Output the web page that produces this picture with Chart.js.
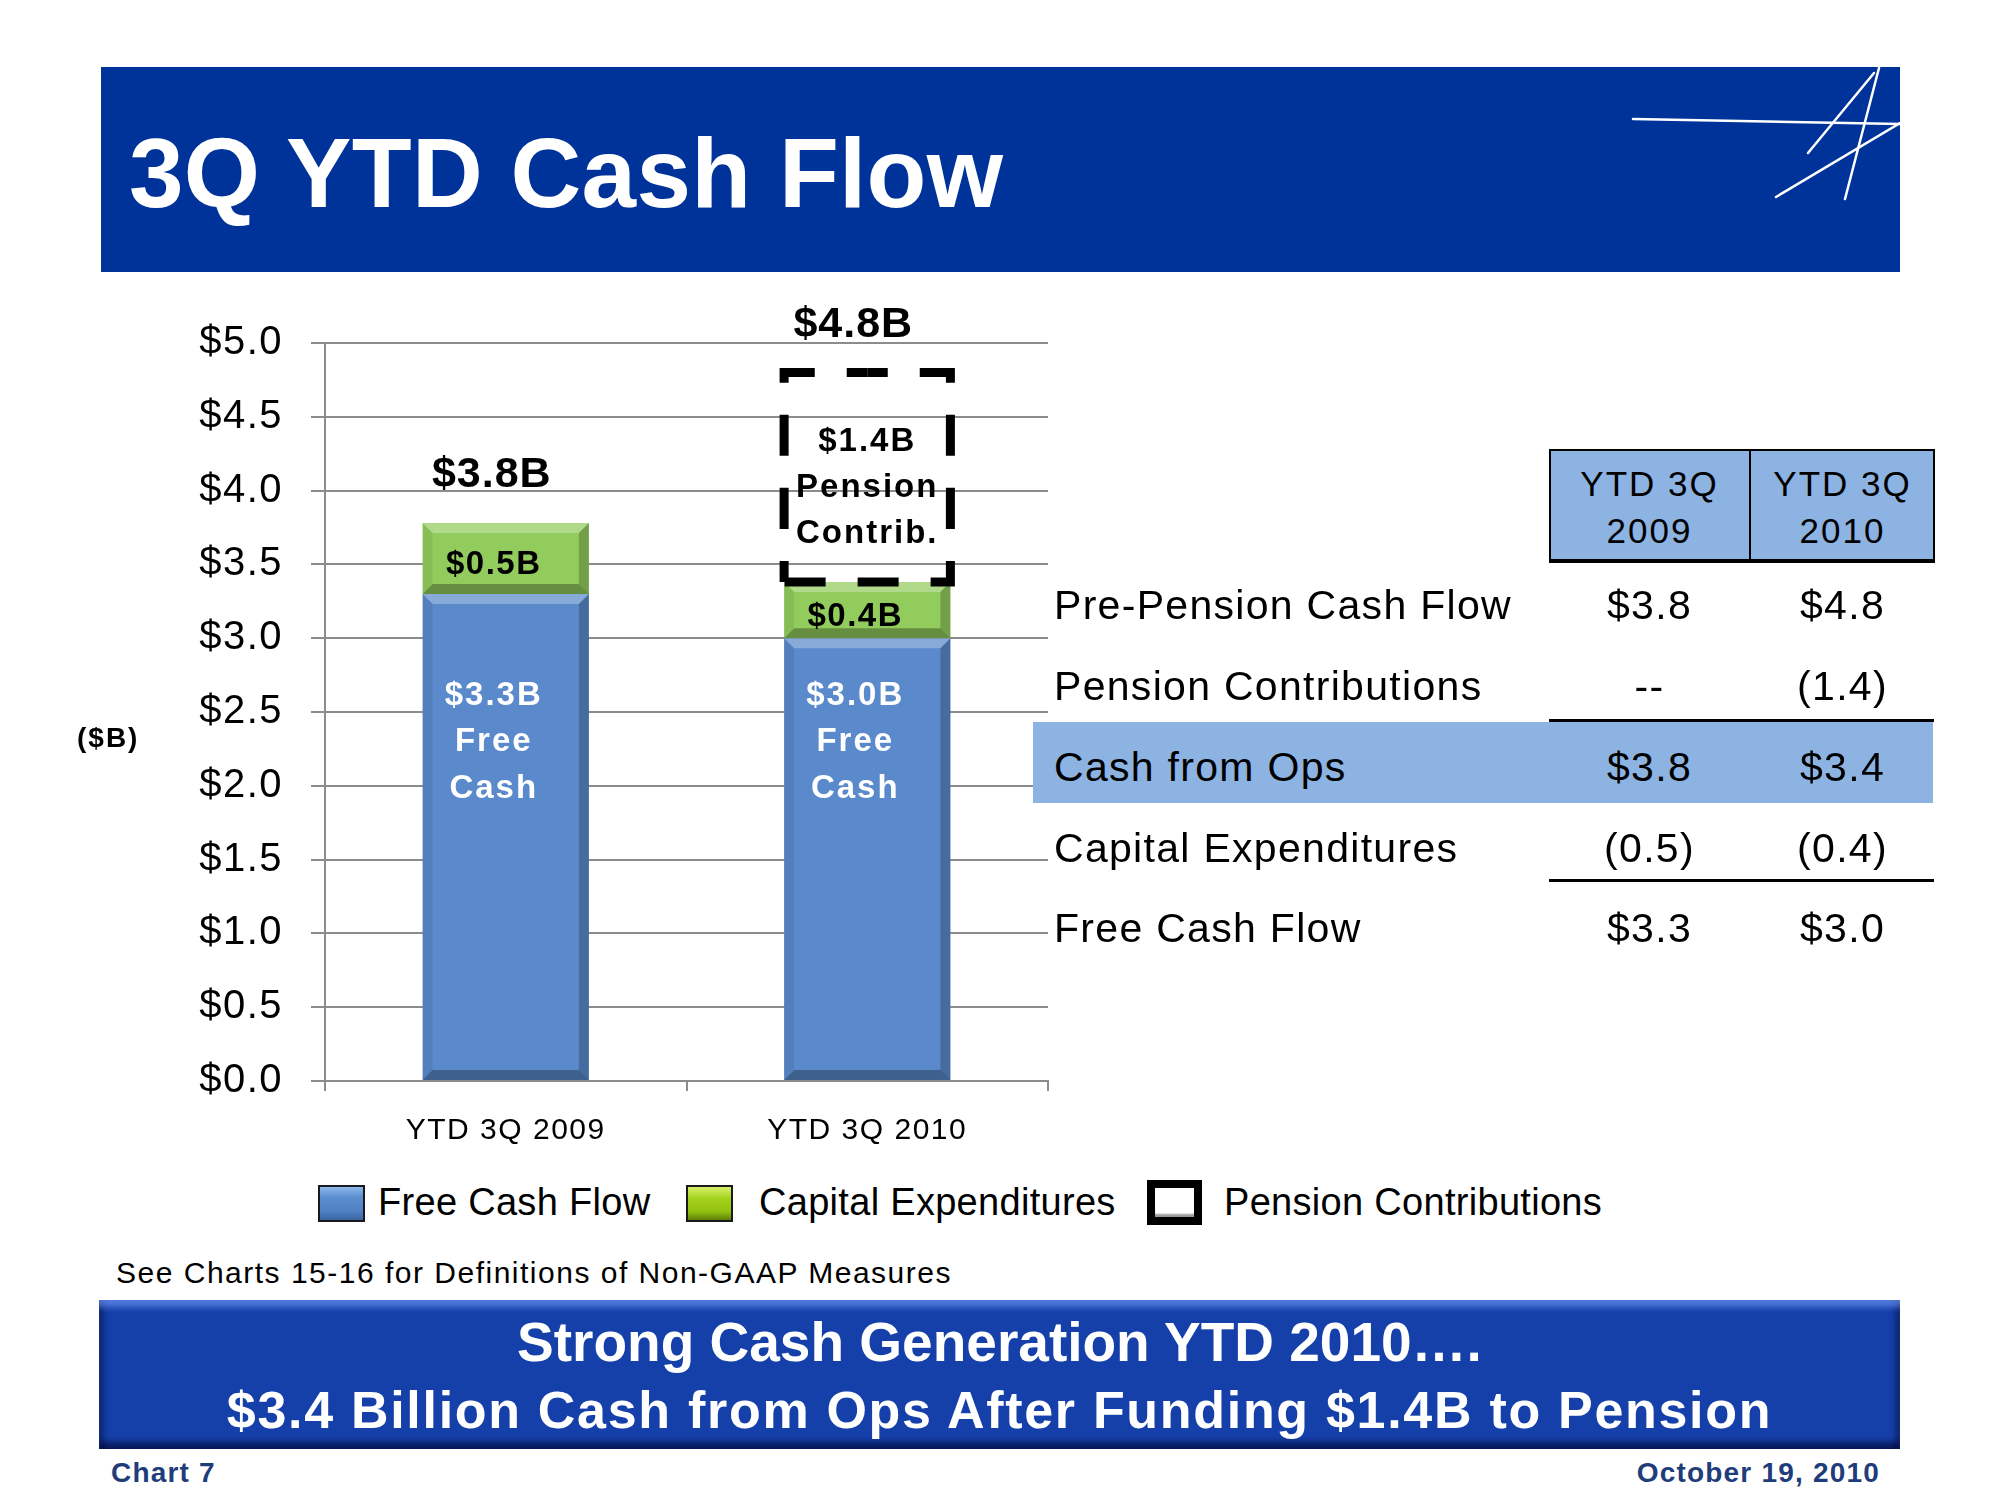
<!DOCTYPE html>
<html>
<head>
<meta charset="utf-8">
<title>3Q YTD Cash Flow</title>
<script src="https://cdn.jsdelivr.net/npm/chart.js@4.4.1/dist/chart.umd.min.js"></script>
<style>
  html, body { margin: 0; padding: 0; background: #fff; }
  body { width: 2000px; height: 1500px; position: relative; overflow: hidden;
         font-family: "Liberation Sans", Arial, sans-serif; color: #000; }
  .abs { position: absolute; white-space: nowrap; }
  #header { left: 101px; top: 67px; width: 1799px; height: 205px; background: #003399; }
  #title { left: 28px; top: 57px; font-size: 98px; line-height: 98px; font-weight: bold; color: #fff; letter-spacing: 0.3px; }
  #logo { left: 0; top: 0; }
  #unit { left: 77px; top: 724px; font-size: 28px; line-height: 28px; font-weight: bold; letter-spacing: 2px; }
  #highlight { left: 1033px; top: 722px; width: 900px; height: 81px; background: #8db3e2; }
  #thead { left: 1549px; top: 449px; width: 386px; height: 114px; background: #8db3e2;
           border: 2px solid #000; border-bottom-width: 4px; box-sizing: border-box; }
  #tdiv { left: 1749px; top: 449px; width: 2px; height: 112px; background: #000; }
  .hcell { font-size: 35px; line-height: 47px; letter-spacing: 2px; text-align: center; top: 460px; }
  .tcell { font-size: 41px; line-height: 41px; letter-spacing: 1.3px; }
  .rule { left: 1549px; width: 385px; height: 3px; background: #000; }
  .lbox { width: 47px; height: 37px; box-sizing: border-box; border: 2px solid #1a1a1a; }
  .ltext { font-size: 38px; line-height: 38px; top: 1183px; letter-spacing: 0.3px; }
  #note { left: 116px; top: 1258px; font-size: 30px; line-height: 30px; letter-spacing: 1.5px; }
  #banner { left: 99px; top: 1300px; width: 1801px; height: 149px; background: #1540aa;
            box-shadow: inset 0 10px 6px -3px rgba(120,160,255,0.6), inset 0 -10px 6px -3px rgba(0,0,40,0.6),
                        inset 9px 0 6px -5px rgba(0,0,40,0.5), inset -9px 0 6px -5px rgba(0,0,40,0.5); }
  .btext { left: 0; width: 1801px; text-align: center; color: #fff; font-weight: bold; }
  .foot { top: 1459px; font-size: 28px; line-height: 28px; font-weight: bold; color: #1f3d7a; letter-spacing: 1.2px; }
</style>
</head>
<body>

<div id="header" class="abs">
  <div id="title" class="abs">3Q YTD Cash Flow</div>
  <svg id="logo" class="abs" width="1799" height="205">
    <g stroke="#fff" stroke-width="2.5" stroke-linecap="round">
      <line x1="1532" y1="52" x2="1799" y2="57"/>
      <line x1="1744" y1="132" x2="1778" y2="1"/>
      <line x1="1707" y1="86" x2="1773" y2="6"/>
      <line x1="1675" y1="130" x2="1799" y2="56"/>
    </g>
  </svg>
</div>

<canvas id="chart" class="abs" style="left:0;top:0" width="1100" height="1160"></canvas>
<div id="unit" class="abs">($B)</div>

<div id="highlight" class="abs"></div>
<div id="thead" class="abs"></div>
<div id="tdiv" class="abs"></div>
<div id="table"></div>

<div id="legend"></div>

<div id="note" class="abs">See Charts 15-16 for Definitions of Non-GAAP Measures</div>

<div id="banner" class="abs">
  <div class="abs btext" style="top:15px;font-size:55px;line-height:55px;">Strong Cash Generation YTD 2010….</div>
  <div class="abs btext" style="top:84px;font-size:52px;line-height:52px;letter-spacing:1.7px;">$3.4 Billion Cash from Ops After Funding $1.4B to Pension</div>
</div>

<div class="abs foot" style="left:111px;">Chart 7</div>
<div class="abs foot" style="right:120px;">October 19, 2010</div>

<script>
// Datos
const categories = ['YTD 3Q 2009', 'YTD 3Q 2010'];
const freeCashFlow = [3.3, 3.0];
const capitalExpenditures = [0.48, 0.38];
const pensionContributions = [0, 1.42];
const seriesNames = ['Free Cash Flow', 'Capital Expenditures', 'Pension Contributions'];
const yMin = 0, yMax = 5, yStep = 0.5;

const totalLabels = ['$3.8B', '$4.8B'];
const capexLabels = ['$0.5B', '$0.4B'];
const fcfLabels = [['$3.3B', 'Free', 'Cash'], ['$3.0B', 'Free', 'Cash']];
const pensionLabels = [[], ['$1.4B', 'Pension', 'Contrib.']];

// Tabla
const tableHeaders = [['YTD 3Q', '2009'], ['YTD 3Q', '2010']];
const tableRows = ['Pre-Pension Cash Flow', 'Pension Contributions', 'Cash from Ops', 'Capital Expenditures', 'Free Cash Flow'];
const table2009 = ['$3.8', '--', '$3.8', '(0.5)', '$3.3'];
const table2010 = ['$4.8', '(1.4)', '$3.4', '(0.4)', '$3.0'];

const FONT = '"Liberation Sans", Arial, sans-serif';
const grey = '#8c8c8c';
const blue = '#5a8acb', green = '#92cc5c';

// Tabla HTML
const tableEl = document.getElementById('table');
const cols = [[1549, 201], [1750, 185]];
tableHeaders.forEach((h, i) => {
  const d = document.createElement('div');
  d.className = 'abs hcell';
  d.style.left = cols[i][0] + 'px';
  d.style.width = cols[i][1] + 'px';
  d.innerHTML = h.join('<br>');
  tableEl.appendChild(d);
});
const rowBase = [620, 701, 782, 863, 943];
tableRows.forEach((r, i) => {
  const top = (rowBase[i] - 34.7) + 'px';
  const lab = document.createElement('div');
  lab.className = 'abs tcell';
  lab.style.left = '1054px';
  lab.style.top = top;
  lab.textContent = r;
  tableEl.appendChild(lab);
  [table2009, table2010].forEach((vals, c) => {
    const v = document.createElement('div');
    v.className = 'abs tcell';
    v.style.left = cols[c][0] + 'px';
    v.style.width = cols[c][1] + 'px';
    v.style.textAlign = 'center';
    v.style.top = top;
    v.textContent = vals[i];
    tableEl.appendChild(v);
  });
});
[719, 879].forEach(t => {
  const l = document.createElement('div');
  l.className = 'abs rule';
  l.style.top = t + 'px';
  tableEl.appendChild(l);
});

// Leyenda HTML
const legendEl = document.getElementById('legend');
const legendBoxes = [
  { left: 318, text: 378, style: 'background:linear-gradient(180deg,#8fb8ec 0%,#5b8fd0 30%,#4f80c2 75%,#3a64a0 100%);' },
  { left: 686, text: 759, style: 'background:linear-gradient(180deg,#d6f06a 0%,#a4d21c 35%,#92c010 75%,#5f7e08 100%);' },
  { left: 1147, text: 1224, style: 'width:55px;height:45px;top:1180px;border:8px solid #000;background:#fff;box-shadow:inset 0 -4px 2px -1px #999;' }
];
seriesNames.forEach((name, i) => {
  const b = legendBoxes[i];
  const box = document.createElement('div');
  box.className = 'abs lbox';
  box.style.cssText = 'left:' + b.left + 'px;top:1185px;' + b.style;
  legendEl.appendChild(box);
  const t = document.createElement('div');
  t.className = 'abs ltext';
  t.style.left = b.text + 'px';
  t.textContent = name;
  legendEl.appendChild(t);
});

// Utilidades de dibujo
function poly(ctx, pts, fill) {
  ctx.beginPath();
  ctx.moveTo(pts[0][0], pts[0][1]);
  pts.slice(1).forEach(p => ctx.lineTo(p[0], p[1]));
  ctx.closePath();
  ctx.fillStyle = fill;
  ctx.fill();
}

function bevel(ctx, el, b) {
  const { x, y, base, width } = el.getProps(['x', 'y', 'base', 'width'], true);
  const l = x - width / 2, r = x + width / 2;
  const t = Math.min(y, base), bt = Math.max(y, base);
  if (bt - t < 2 * b) return;
  poly(ctx, [[l, t], [r, t], [r - b, t + b], [l + b, t + b]], 'rgba(255,255,255,0.28)');
  poly(ctx, [[l, t], [l + b, t + b], [l + b, bt - b], [l, bt]], 'rgba(0,0,0,0.07)');
  poly(ctx, [[r, t], [r, bt], [r - b, bt - b], [r - b, t + b]], 'rgba(0,0,0,0.22)');
  poly(ctx, [[l, bt], [r, bt], [r - b, bt - b], [l + b, bt - b]], 'rgba(0,0,0,0.30)');
}

function dashedBox(ctx, el) {
  const { x, y, base, width } = el.getProps(['x', 'y', 'base', 'width'], true);
  if (Math.abs(base - y) < 1) return;
  const l = x - width / 2, r = x + width / 2;
  ctx.save();
  ctx.strokeStyle = '#000';
  ctx.lineWidth = 9;
  ctx.setLineDash([41, 32]);
  ctx.lineDashOffset = 20.5;
  ctx.beginPath();
  ctx.moveTo(x, y); ctx.lineTo(r, y); ctx.lineTo(r, base); ctx.lineTo(l, base);
  ctx.stroke();
  ctx.beginPath();
  ctx.moveTo(x, y); ctx.lineTo(l, y); ctx.lineTo(l, base);
  ctx.stroke();
  ctx.restore();
}

function txt(ctx, s, x, y, size, color, spacing) {
  ctx.save();
  ctx.font = 'bold ' + size + 'px ' + FONT;
  ctx.fillStyle = color;
  ctx.textAlign = 'center';
  ctx.textBaseline = 'alphabetic';
  if ('letterSpacing' in ctx) ctx.letterSpacing = spacing + 'px';
  ctx.fillText(s, x, y);
  ctx.restore();
}

// Espaciado de letras en los ejes
const axisSpacing = {
  id: 'axisSpacing',
  beforeDraw(chart) {
    if ('letterSpacing' in chart.ctx) chart.ctx.letterSpacing = '1.5px';
  }
};

const barDecor = {
  id: 'barDecor',
  afterDatasetsDraw(chart) {
    const ctx = chart.ctx;
    const yScale = chart.scales.y;
    const fcf = chart.getDatasetMeta(0).data;
    const cap = chart.getDatasetMeta(1).data;
    const pen = chart.getDatasetMeta(2).data;

    ctx.save();
    fcf.forEach(el => bevel(ctx, el, 10));
    cap.forEach(el => bevel(ctx, el, 10));
    ctx.restore();

    pen.forEach(el => dashedBox(ctx, el));

    categories.forEach((c, i) => {
      const top = pensionContributions[i] > 0 ? pen[i] : cap[i];
      txt(ctx, totalLabels[i], top.x - 14, top.y - 36, 43, '#000', 1);

      const ce = cap[i];
      txt(ctx, capexLabels[i], ce.x - 12, (ce.y + ce.base) / 2 + 16, 33, '#000', 1.5);

      const y0 = yScale.getPixelForValue(2.55);
      fcfLabels[i].forEach((s, k) => txt(ctx, s, fcf[i].x - 12, y0 + k * 46.5, 33, '#fff', 2));

      const pe = pen[i];
      const mid = (pe.y + pe.base) / 2;
      pensionLabels[i].forEach((s, k) => txt(ctx, s, pe.x, mid - 26 + k * 46, 33, '#000', 2));
    });
  }
};

Chart.defaults.font.family = FONT;
Chart.defaults.color = '#000';

new Chart(document.getElementById('chart'), {
  type: 'bar',
  data: {
    labels: categories,
    datasets: [
      { label: seriesNames[0], data: freeCashFlow, backgroundColor: blue },
      { label: seriesNames[1], data: capitalExpenditures, backgroundColor: green },
      { label: seriesNames[2], data: pensionContributions, backgroundColor: 'rgba(0,0,0,0)' }
    ]
  },
  options: {
    responsive: false,
    animation: false,
    devicePixelRatio: 1,
    categoryPercentage: 1,
    barPercentage: 0.46,
    layout: { padding: { top: 343, right: 52, left: 0, bottom: 0 } },
    plugins: { legend: { display: false }, tooltip: { enabled: false } },
    scales: {
      x: {
        stacked: true,
        grid: { drawOnChartArea: false, drawTicks: true, tickLength: 10, color: grey, lineWidth: 2 },
        border: { display: true, color: grey, width: 2 },
        ticks: { font: { size: 30 }, color: '#000', padding: 22 },
        afterFit: s => { s.height = 79; }
      },
      y: {
        stacked: true,
        min: yMin,
        max: yMax,
        grid: { color: grey, lineWidth: 2, tickLength: 14 },
        border: { display: true, color: grey, width: 2 },
        ticks: {
          stepSize: yStep,
          font: { size: 40 },
          color: '#000',
          padding: 28,
          callback: v => '$' + Number(v).toFixed(1)
        },
        afterFit: s => { s.width = 325; }
      }
    }
  },
  plugins: [axisSpacing, barDecor]
});
</script>
</body>
</html>
